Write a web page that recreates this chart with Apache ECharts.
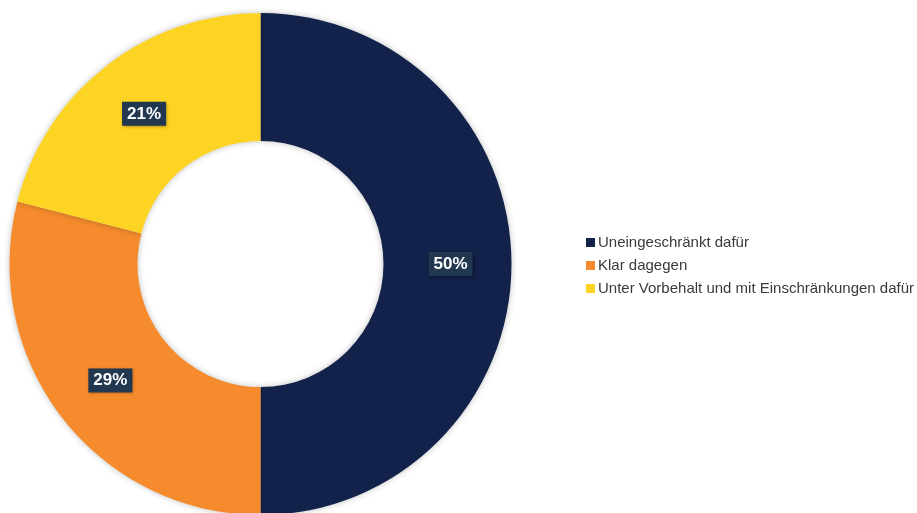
<!DOCTYPE html>
<html><head><meta charset="utf-8">
<script src="https://cdn.jsdelivr.net/npm/echarts@6/dist/echarts.min.js"></script>
<style>html,body{margin:0;padding:0;background:#fff}#c{width:917px;height:513px}</style>
</head><body><div id="c"></div>
<script>
const categories = ["Uneingeschränkt dafür", "Klar dagegen", "Unter Vorbehalt und mit Einschränkungen dafür"];
const values = [50, 29, 21];
const colors = ["#13224A", "#F58B2C", "#FDD423"];

const chart = echarts.init(document.getElementById('c'), null, {renderer: 'canvas'});
chart.setOption({
  animation: false,
  legend: {
    orient: 'vertical',
    left: 581,
    top: 230,
    itemWidth: 9,
    itemHeight: 9,
    itemGap: 8,
    icon: 'rect',
    textStyle: {fontFamily: 'Liberation Sans, Arial, sans-serif', fontSize: 15, color: '#3a3a3a', padding: [0,0,0,-2]},
    data: categories
  },
  series: [{
    type: 'pie',
    center: [260.5, 264],
    radius: [123, 251],
    startAngle: 90,
    clockwise: true,
    silent: true,
    itemStyle: {shadowBlur: 6, shadowColor: 'rgba(0,0,0,0.25)'},
    label: {
      show: true,
      position: 'inside',
      formatter: '{c}%',
      fontFamily: 'Liberation Sans, Arial, sans-serif',
      fontSize: 17,
      fontWeight: 'bold',
      color: '#fff',
      backgroundColor: '#223750',
      padding: [4, 5, 3, 5],
      shadowBlur: 3,
      shadowOffsetX: 1,
      shadowOffsetY: 1,
      shadowColor: 'rgba(0,0,0,0.4)'
    },
    labelLine: {show: false},
    data: categories.map((n, i) => ({name: n, value: values[i], itemStyle: {color: colors[i]}}))
  }]
});
</script></body></html>
